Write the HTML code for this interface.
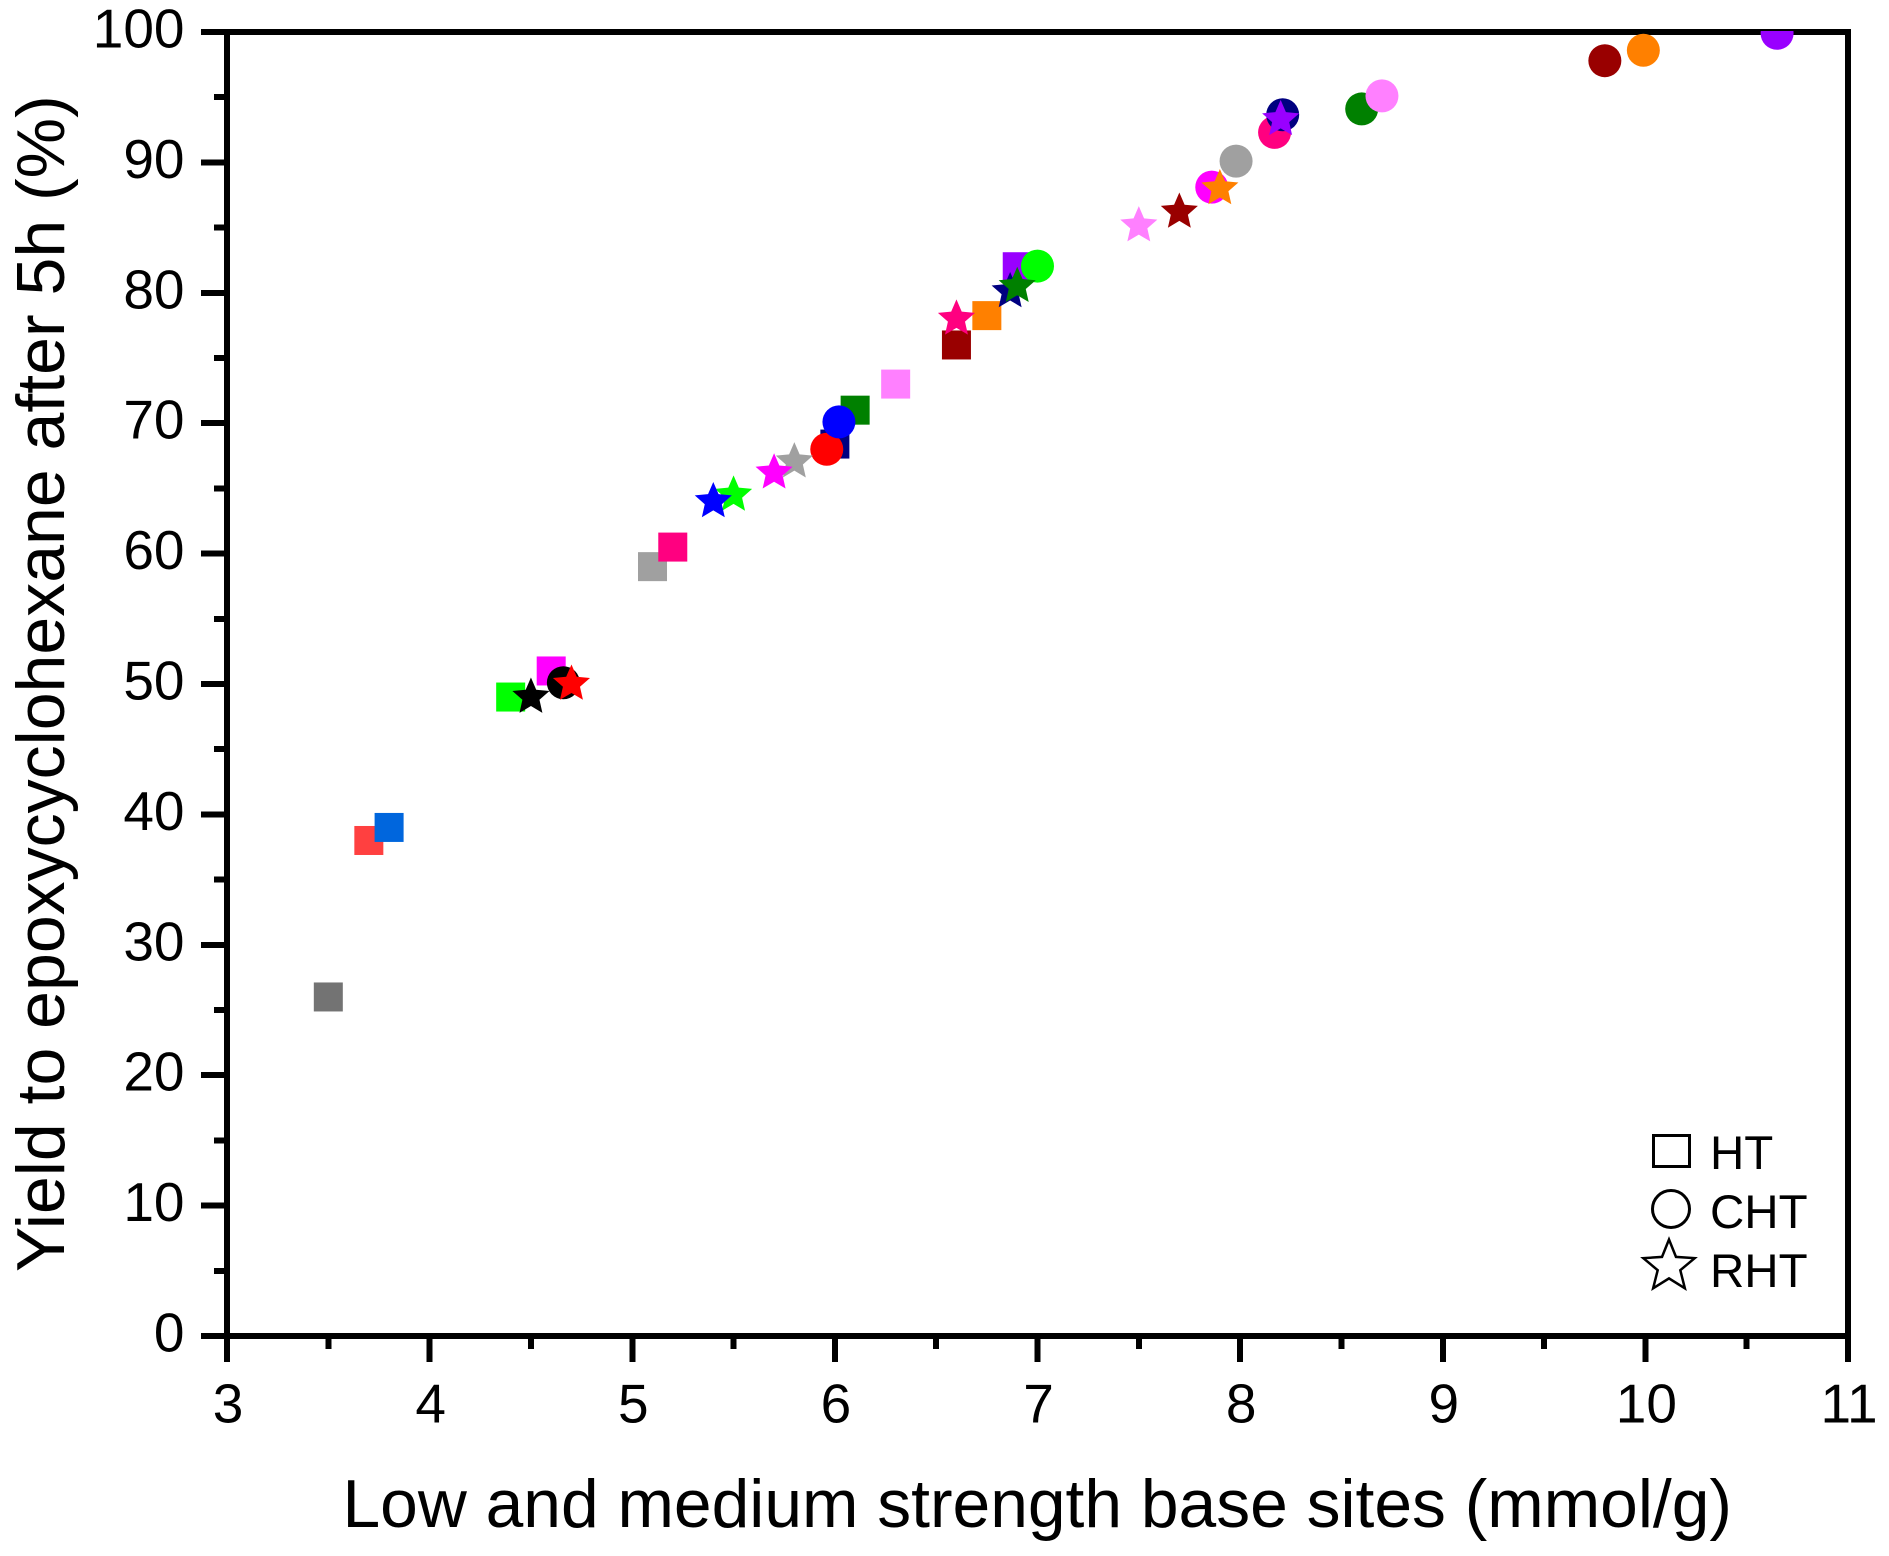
<!DOCTYPE html>
<html lang="en">
<head>
<meta charset="utf-8">
<title>Yield to epoxycyclohexane vs base sites</title>
<style>
  html, body { margin: 0; padding: 0; background: #ffffff; }
  svg { display: block; }
  text { font-family: "Liberation Sans", Arial, sans-serif; fill: #000000; }
</style>
</head>
<body>
<svg id="chart" xmlns="http://www.w3.org/2000/svg" width="1889" height="1556" viewBox="0 0 1889 1556">
  <defs>
    <clipPath id="plot-clip"><rect x="0" y="31" width="1889" height="1400"></rect></clipPath>
  </defs>
  <rect x="0" y="0" width="1889" height="1556" fill="#ffffff"></rect>
  <g id="axes"></g>
  <g id="marks" clip-path="url(#plot-clip)"></g>
  <text x="342.5" y="1527" font-size="67.75">Low and medium strength base sites (mmol/g)</text>
  <text transform="translate(64 1272) rotate(-90)" x="0" y="0" font-size="68">Yield to epoxycyclohexane after 5h (%)</text>
  <g>
    <rect x="1653.5" y="1135.5" width="36" height="31" fill="none" stroke="#000" stroke-width="3"></rect>
    <text x="1710" y="1169" font-size="47.5">HT</text>
    <circle cx="1671" cy="1209" r="18.5" fill="none" stroke="#000" stroke-width="3"></circle>
    <text x="1710" y="1228" font-size="47.5">CHT</text>
    <polygon id="legend-star" fill="none" stroke="#000" stroke-width="2.5"></polygon>
    <text x="1710" y="1287" font-size="47.5">RHT</text>
  </g>
</svg>
<script>
// Axis tick values
const xMajorTicks = [3, 4, 5, 6, 7, 8, 9, 10, 11];
const xMinorTicks = [3.5, 4.5, 5.5, 6.5, 7.5, 8.5, 9.5, 10.5];
const yMajorTicks = [0, 10, 20, 30, 40, 50, 60, 70, 80, 90, 100];
const yMinorTicks = [5, 15, 25, 35, 45, 55, 65, 75, 85, 95];

// HT series (squares)
const htX = [3.5, 3.7, 3.8, 4.4, 4.6, 5.1, 5.2, 6.0, 6.1, 6.3, 6.6, 6.75, 6.9];
const htY = [26, 38, 39, 49, 51, 59, 60.5, 68.4, 71, 73, 76, 78.25, 82];
const htColors = ['#737373', '#ff4040', '#0066dd', '#00ff00', '#ff00ff', '#a0a0a0', '#ff0080', '#000080', '#008000', '#ff80ff', '#990000', '#ff8000', '#9900ff'];

// CHT series (circles)
const chtX = [4.66, 5.96, 6.02, 7.0, 7.86, 7.98, 8.17, 8.21, 8.6, 8.7, 9.8, 9.99, 10.65];
const chtY = [50.1, 68, 70.1, 82.05, 88.1, 90.1, 92.3, 93.65, 94.1, 95.1, 97.8, 98.6, 99.9];
const chtColors = ['#000000', '#ff0000', '#0000ff', '#00ff00', '#ff00ff', '#a0a0a0', '#ff0080', '#000080', '#008000', '#ff80ff', '#990000', '#ff8000', '#9900ff'];

// RHT series (stars)
const rhtX = [4.5, 4.7, 5.5, 5.4, 5.8, 5.7, 6.6, 6.865, 6.9, 7.5, 7.7, 7.9, 8.2];
const rhtY = [49, 50, 64.5, 64, 67.05, 66.2, 78, 80.1, 80.5, 85.15, 86.2, 88, 93.3];
const rhtColors = ['#000000', '#ff0000', '#00ff00', '#0000ff', '#a0a0a0', '#ff00ff', '#ff0080', '#000080', '#008000', '#ff80ff', '#990000', '#ff8000', '#9900ff'];

const NS = 'http://www.w3.org/2000/svg';
const plotLeft = 227, plotRight = 1848, plotTop = 32, plotBottom = 1336;
const xMin = 3, xMax = 11, yMin = 0, yMax = 100;
function sx(v) { return plotLeft + (v - xMin) / (xMax - xMin) * (plotRight - plotLeft); }
function sy(v) { return plotBottom - (v - yMin) / (yMax - yMin) * (plotBottom - plotTop); }

function starPoints(cx, cy, R, ratio) {
  const r = R * ratio;
  const pts = [];
  for (let i = 0; i < 10; i++) {
    const a = -Math.PI / 2 + i * Math.PI / 5;
    const rad = i % 2 === 0 ? R : r;
    pts.push((cx + rad * Math.cos(a)).toFixed(2) + ',' + (cy + rad * Math.sin(a)).toFixed(2));
  }
  return pts.join(' ');
}

const axes = document.getElementById('axes');
const marks = document.getElementById('marks');

function axisLine(x1, y1, x2, y2) {
  const el = document.createElementNS(NS, 'line');
  el.setAttribute('x1', x1);
  el.setAttribute('y1', y1);
  el.setAttribute('x2', x2);
  el.setAttribute('y2', y2);
  el.setAttribute('stroke', '#000');
  el.setAttribute('stroke-width', 6);
  el.setAttribute('shape-rendering', 'crispEdges');
  axes.appendChild(el);
  return el;
}

// Frame
const frameTop = axisLine(plotLeft - 3, plotTop, plotRight + 3, plotTop);


const frameRight = axisLine(plotRight, plotTop, plotRight, plotBottom);


const xAxisLine = axisLine(plotLeft - 3, plotBottom, plotRight + 3, plotBottom);


const yAxisLine = axisLine(plotLeft, plotTop, plotLeft, plotBottom);



// X ticks
xMajorTicks.forEach(function (v) {
  const t = axisLine(sx(v), plotBottom, sx(v), 1362);
  
  
  const label = document.createElementNS(NS, 'text');
  label.setAttribute('x', sx(v) + 1);
  label.setAttribute('y', 1422.5);
  label.setAttribute('font-size', 55);
  label.setAttribute('text-anchor', 'middle');
  label.textContent = String(v);
  
  
  axes.appendChild(label);
});
xMinorTicks.forEach(function (v) {
  const t = axisLine(sx(v), plotBottom, sx(v), 1349);
  
  
});

// Y ticks
yMajorTicks.forEach(function (v) {
  const t = axisLine(201, sy(v), plotLeft, sy(v));
  
  
  const label = document.createElementNS(NS, 'text');
  label.setAttribute('x', 184.5);
  label.setAttribute('y', sy(v) + 15.5);
  label.setAttribute('font-size', 55);
  label.setAttribute('text-anchor', 'end');
  label.textContent = String(v);
  
  
  axes.appendChild(label);
});
yMinorTicks.forEach(function (v) {
  const t = axisLine(214, sy(v), plotLeft, sy(v));
  
  
});

// Squares
htX.forEach(function (v, i) {
  const el = document.createElementNS(NS, 'rect');
  el.setAttribute('x', sx(v) - 14.5);
  el.setAttribute('y', sy(htY[i]) - 14.5);
  el.setAttribute('width', 29);
  el.setAttribute('height', 29);
  el.setAttribute('fill', htColors[i]);
  
  
  marks.appendChild(el);
});

// Circles
chtX.forEach(function (v, i) {
  const el = document.createElementNS(NS, 'circle');
  el.setAttribute('cx', sx(v));
  el.setAttribute('cy', sy(chtY[i]));
  el.setAttribute('r', 16.5);
  el.setAttribute('fill', chtColors[i]);
  
  
  marks.appendChild(el);
});

// Stars
rhtX.forEach(function (v, i) {
  const el = document.createElementNS(NS, 'polygon');
  el.setAttribute('points', starPoints(sx(v), sy(rhtY[i]), 19.5, 0.46));
  el.setAttribute('fill', rhtColors[i]);
  
  
  marks.appendChild(el);
});

document.getElementById('legend-star').setAttribute('points', starPoints(1669, 1266.5, 27, 0.44));
</script>
</body>
</html>
